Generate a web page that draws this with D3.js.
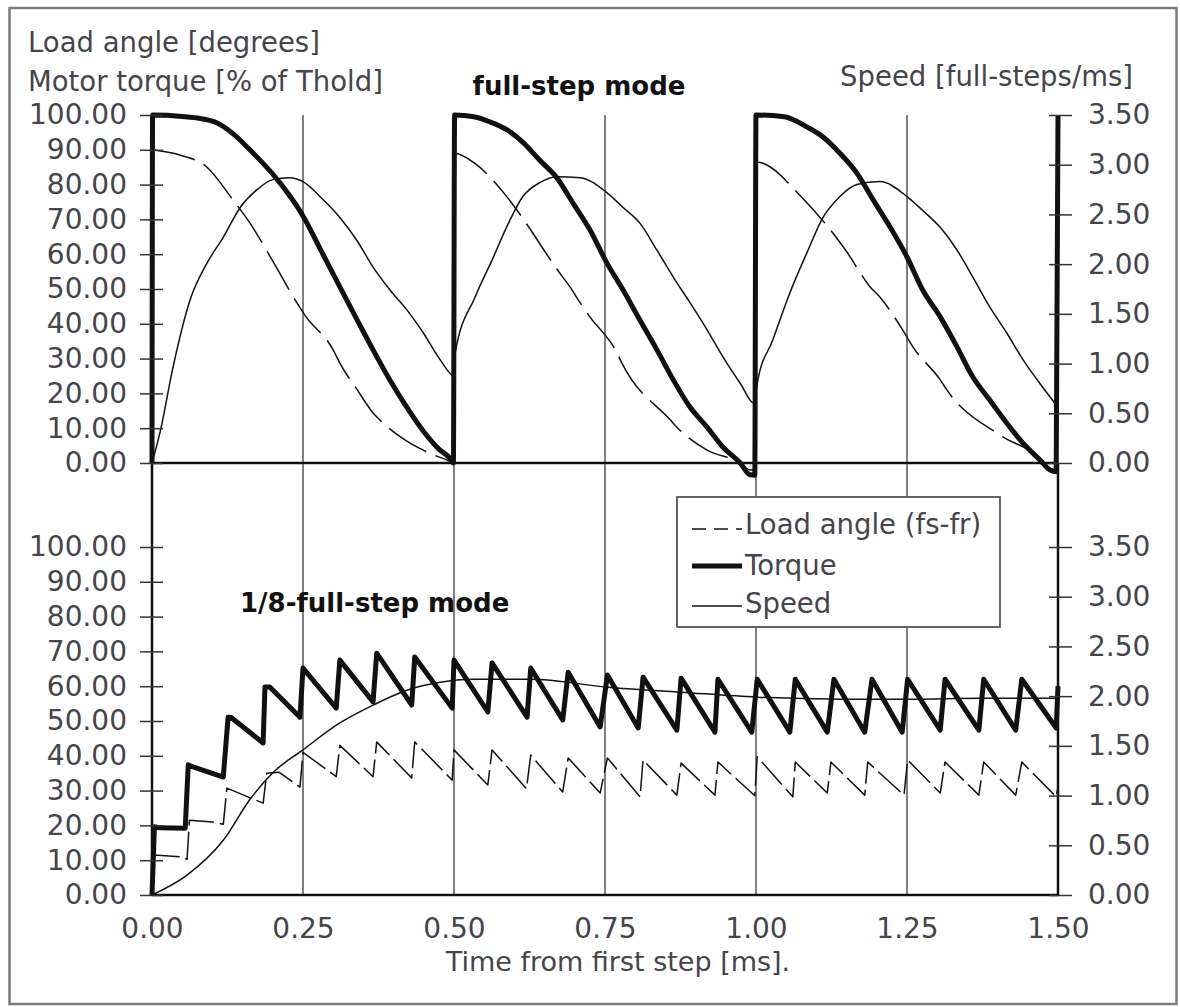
<!DOCTYPE html>
<html>
<head>
<meta charset="utf-8">
<style>
  body { margin: 0; background: #fff; }
  svg text { font-family: 'DejaVu Sans', sans-serif; }
</style>
</head>
<body>
<div id="chart"></div>
<script src="https://cdn.jsdelivr.net/npm/d3@7/dist/d3.min.js"></script>
<script>
var width = 1180, height = 1007;

var timeTicks = [0, 0.25, 0.5, 0.75, 1.0, 1.25, 1.5];
var pctTicks = [0, 10, 20, 30, 40, 50, 60, 70, 80, 90, 100];
var speedTicks = [0, 0.5, 1.0, 1.5, 2.0, 2.5, 3.0, 3.5];
var legendLabels = ['Load angle (fs-fr)', 'Torque', 'Speed'];

// full-step mode (upper panel), [time ms, value]
var fsTorque = [
  [0, 0], [0.001, 100], [0.05, 99.6], [0.08, 99], [0.108, 97.7], [0.135, 94.5], [0.162, 90], [0.2, 83],
  [0.225, 77.5], [0.25, 71], [0.28, 61], [0.311, 50.6], [0.34, 41], [0.366, 32.5], [0.395, 23.5],
  [0.422, 16], [0.45, 9], [0.475, 4], [0.493, 1.4], [0.499, 0],
  [0.501, 100], [0.533, 99.5], [0.56, 98], [0.588, 95.7], [0.615, 92], [0.642, 87], [0.67, 82],
  [0.697, 74.7], [0.725, 67], [0.753, 57.5], [0.78, 49.7], [0.808, 41], [0.836, 32.5], [0.863, 23.9],
  [0.891, 16], [0.919, 10.3], [0.945, 4.6], [0.974, 0], [0.99, -3.4], [0.998, -3.5],
  [1.0, 100], [1.047, 99.5], [1.084, 96.6], [1.111, 93.7], [1.139, 89], [1.167, 83.3], [1.194, 75.6],
  [1.222, 67.8], [1.25, 59.2], [1.276, 49.7], [1.305, 42], [1.333, 33.3], [1.359, 24.7], [1.387, 18.1],
  [1.415, 11.5], [1.442, 5.7], [1.47, 0.9], [1.487, -2], [1.497, -2.5], [1.5, 100]
];
var fsAngle = [
  [0, 90], [0.046, 88.5], [0.091, 85], [0.134, 75.6], [0.162, 69], [0.2, 58], [0.24, 46], [0.253, 42.5],
  [0.3, 32.5], [0.311, 28.7], [0.34, 21], [0.366, 14.4], [0.377, 12.4], [0.42, 6.5], [0.46, 2.8],
  [0.493, 0.5], [0.499, 0],
  [0.501, 89], [0.535, 86], [0.588, 76.4], [0.604, 72.7], [0.675, 54.6], [0.692, 50.6], [0.709, 46],
  [0.725, 42], [0.77, 31.6], [0.778, 28.7], [0.858, 12.4], [0.869, 10.3], [0.919, 3.7], [0.974, 0],
  [0.99, -2], [0.998, -2],
  [1.001, 86.5], [1.037, 83.3], [1.053, 80.5], [1.132, 65], [1.149, 61], [1.189, 50.6], [1.205, 47.7],
  [1.243, 38.2], [1.26, 33.3], [1.305, 23.9], [1.316, 21], [1.409, 7.5], [1.47, 1.4], [1.487, -2], [1.5, -2]
];
var fsSpeed = [
  [0, 0], [0.013, 0.30], [0.035, 0.97], [0.063, 1.64], [0.091, 2.01], [0.118, 2.27], [0.146, 2.57],
  [0.174, 2.75], [0.2, 2.85], [0.228, 2.87], [0.25, 2.83], [0.283, 2.65], [0.311, 2.47], [0.339, 2.24],
  [0.366, 1.97], [0.394, 1.74], [0.422, 1.54], [0.449, 1.31], [0.477, 1.04], [0.499, 0.88],
  [0.502, 1.11], [0.535, 1.67], [0.563, 2.04], [0.59, 2.41], [0.614, 2.68], [0.642, 2.82], [0.67, 2.88],
  [0.709, 2.87], [0.753, 2.72], [0.78, 2.57], [0.808, 2.41], [0.836, 2.14], [0.863, 1.87], [0.891, 1.61],
  [0.919, 1.34], [0.945, 1.07], [0.974, 0.80], [0.997, 0.60],
  [1.002, 0.80], [1.028, 1.24], [1.056, 1.71], [1.084, 2.11], [1.111, 2.47], [1.139, 2.68], [1.167, 2.80],
  [1.205, 2.83], [1.25, 2.68], [1.276, 2.54], [1.305, 2.37], [1.333, 2.14], [1.359, 1.87], [1.387, 1.57],
  [1.415, 1.31], [1.442, 1.04], [1.47, 0.80], [1.495, 0.60]
];

// 1/8-full-step mode (lower panel)
var msTorque = [
  [0, 0], [0.004, 19.6], [0.013, 19.3], [0.055, 19.2], [0.06, 37.4], [0.068, 36.8], [0.118, 33.9],
  [0.126, 51.1], [0.131, 51], [0.184, 43.7], [0.187, 59.8], [0.195, 59.8], [0.245, 51.1], [0.25, 65.2],
  [0.305, 53.7], [0.311, 67.5], [0.366, 55.5], [0.372, 69.5], [0.43, 54.6], [0.435, 68.4], [0.497, 53.7],
  [0.5, 67.5], [0.556, 52.6], [0.563, 66.7], [0.621, 51.1], [0.627, 65.2], [0.680, 50.3], [0.689, 64],
  [0.742, 48.3], [0.754, 63.2], [0.805, 48], [0.813, 62.6], [0.869, 47.4], [0.876, 62.3], [0.932, 46.8],
  [0.937, 62], [0.993, 46.8], [1.002, 62], [1.056, 46.8], [1.065, 62], [1.118, 46.8], [1.129, 62],
  [1.18, 46.8], [1.192, 62], [1.242, 46.8], [1.251, 62], [1.305, 47.4], [1.313, 62], [1.369, 47.4],
  [1.377, 62], [1.43, 47.4], [1.44, 62], [1.497, 48], [1.5, 60]
];
var msAngle = [
  [0, 0], [0.003, 11.5], [0.052, 10.9], [0.058, 10.2], [0.062, 21.5], [0.1, 21], [0.118, 20.3],
  [0.124, 30.7], [0.184, 26.4], [0.19, 35], [0.21, 35.3], [0.245, 31], [0.25, 41], [0.305, 34],
  [0.311, 43], [0.366, 34], [0.372, 44], [0.43, 33.6], [0.435, 44], [0.497, 33], [0.5, 41.7],
  [0.556, 31.6], [0.563, 41.7], [0.62, 30.5], [0.627, 40.2], [0.680, 29.6], [0.689, 39.4], [0.742, 29.3],
  [0.754, 39.4], [0.808, 28.2], [0.813, 38.8], [0.869, 28.7], [0.876, 37.9], [0.932, 28.7], [0.937, 38.2],
  [0.998, 28.5], [1.002, 39.7], [1.061, 28.2], [1.065, 38.2], [1.118, 29.3], [1.124, 38.2], [1.18, 28.7],
  [1.185, 38.2], [1.245, 28.7], [1.251, 38.8], [1.305, 29.3], [1.313, 38.2], [1.369, 28.7], [1.377, 38.2],
  [1.43, 28.7], [1.44, 38.2], [1.497, 28.2], [1.5, 31]
];
var msSpeed = [
  [0, 0], [0.058, 0.20], [0.118, 0.55], [0.162, 0.96], [0.2, 1.23], [0.25, 1.46], [0.311, 1.73],
  [0.366, 1.91], [0.422, 2.06], [0.477, 2.14], [0.53, 2.17], [0.627, 2.17], [0.754, 2.09], [0.876, 2.04],
  [1.002, 1.99], [1.142, 1.97], [1.25, 1.97], [1.377, 1.98], [1.5, 1.98]
];

var txt = '#44444c';
var fmt = d3.format('.2f');

var svg = d3.select('#chart').append('svg')
    .attr('width', width)
    .attr('height', height);

svg.append('rect')
    .attr('x', 9.5).attr('y', 8)
    .attr('width', 1167).attr('height', 996)
    .attr('fill', 'white')
    .attr('stroke', '#7a7a7a')
    .attr('stroke-width', 2.5);

var x = d3.scaleLinear().domain([0, 1.5]).range([152, 1058]);
var yTop = d3.scaleLinear().domain([0, 100]).range([463, 115]);
var sTop = d3.scaleLinear().domain([0, 3.5]).range([463, 115]);
var yBot = d3.scaleLinear().domain([0, 100]).range([895, 547]);
var sBot = d3.scaleLinear().domain([0, 3.5]).range([895, 547]);

// vertical grid lines through both panels
svg.selectAll('.grid')
    .data(timeTicks.filter(function(t){ return t > 0 && t < 1.5; }))
    .enter().append('line')
    .attr('class', 'grid')
    .attr('x1', function(d){ return x(d); })
    .attr('x2', function(d){ return x(d); })
    .attr('y1', yTop(100))
    .attr('y2', yBot(0))
    .attr('stroke', '#2a2a2a')
    .attr('stroke-width', 1.2);

function drawSeries(data, ys, w, dash, curve){
    var line = d3.line()
        .x(function(d){ return x(d[0]); })
        .y(function(d){ return ys(d[1]); })
        .curve(curve || d3.curveLinear);
    var p = svg.append('path')
        .attr('d', line(data))
        .attr('fill', 'none')
        .attr('stroke', '#111')
        .attr('stroke-width', w)
        .attr('stroke-linejoin', 'round');
    if(dash) p.attr('stroke-dasharray', dash);
}

drawSeries(fsAngle, yTop, 1.5, '44,10', d3.curveMonotoneX);
drawSeries(fsSpeed, sTop, 1.5, null, d3.curveMonotoneX);
drawSeries(msAngle, yBot, 1.5, '30,6');
drawSeries(msSpeed, sBot, 1.5, null, d3.curveMonotoneX);

// axis lines
svg.append('line').attr('x1', x(0)).attr('x2', x(0)).attr('y1', yTop(100)).attr('y2', yBot(0))
    .attr('stroke', '#111').attr('stroke-width', 2.5);
svg.append('line').attr('x1', x(1.5)).attr('x2', x(1.5)).attr('y1', yTop(0)).attr('y2', yBot(0))
    .attr('stroke', '#111').attr('stroke-width', 2.5);
[yTop(0), yBot(0)].forEach(function(yy){
    svg.append('line').attr('x1', x(0)).attr('x2', x(1.5)).attr('y1', yy).attr('y2', yy)
        .attr('stroke', '#111').attr('stroke-width', 2.5);
});

drawSeries(fsTorque, yTop, 5, null, d3.curveMonotoneX);
drawSeries(msTorque, yBot, 5);

function leftAxis(scale){
    var g = svg.append('g')
        .attr('transform', 'translate(' + x(0) + ',0)')
        .call(d3.axisLeft(scale).tickValues(pctTicks).tickFormat(fmt).tickSize(12).tickPadding(13));
    g.attr('font-family', 'DejaVu Sans').attr('font-size', 28);
    g.select('.domain').remove();
    g.selectAll('.tick line').attr('x1', 11).attr('stroke', '#333').attr('stroke-width', 1.5);
    g.selectAll('.tick text').attr('fill', txt);
}
function rightAxis(scale){
    var g = svg.append('g')
        .attr('transform', 'translate(' + x(1.5) + ',0)')
        .call(d3.axisRight(scale).tickValues(speedTicks).tickFormat(fmt).tickSize(14).tickPadding(16));
    g.attr('font-family', 'DejaVu Sans').attr('font-size', 28);
    g.select('.domain').remove();
    g.selectAll('.tick line').attr('x1', -9).attr('stroke', '#333').attr('stroke-width', 1.5);
    g.selectAll('.tick text').attr('fill', txt);
}
leftAxis(yTop);
leftAxis(yBot);
rightAxis(sTop);
rightAxis(sBot);

var xg = svg.append('g')
    .attr('transform', 'translate(0,' + yBot(0) + ')')
    .call(d3.axisBottom(x).tickValues(timeTicks).tickFormat(fmt).tickSize(0).tickPadding(23));
xg.attr('font-family', 'DejaVu Sans').attr('font-size', 28);
xg.select('.domain').remove();
xg.selectAll('.tick text').attr('fill', txt);

// titles
svg.append('text').attr('x', 28).attr('y', 52).attr('font-size', 27.5).attr('fill', txt)
    .text('Load angle [degrees]');
svg.append('text').attr('x', 28).attr('y', 91).attr('font-size', 27.5).attr('fill', txt)
    .text('Motor torque [% of Thold]');
svg.append('text').attr('x', 1133).attr('y', 86).attr('font-size', 27.5).attr('fill', txt)
    .attr('text-anchor', 'end').text('Speed [full-steps/ms]');
svg.append('text').attr('x', 579).attr('y', 95).attr('font-size', 26).attr('font-weight', 'bold')
    .attr('fill', '#111').attr('text-anchor', 'middle').text('full-step mode');
svg.append('text').attr('x', 240).attr('y', 612).attr('font-size', 26).attr('font-weight', 'bold')
    .attr('fill', '#111').text('1/8-full-step mode');
svg.append('text').attr('x', 618).attr('y', 971).attr('font-size', 27).attr('fill', txt)
    .attr('text-anchor', 'middle').text('Time from first step [ms].');

// legend
var lg = svg.append('g');
lg.append('rect').attr('x', 677).attr('y', 497).attr('width', 323).attr('height', 130)
    .attr('fill', 'white').attr('stroke', '#555').attr('stroke-width', 1.8);
var rowY = [529, 566, 606];
var rowT = [534, 575, 613];
var rowW = [1.5, 5, 1.5];
var rowDash = ['14,8', null, null];
legendLabels.forEach(function(lab, i){
    var l = lg.append('line').attr('x1', 692).attr('x2', 742)
        .attr('y1', rowY[i]).attr('y2', rowY[i])
        .attr('stroke', '#111').attr('stroke-width', rowW[i]);
    if(rowDash[i]) l.attr('stroke-dasharray', rowDash[i]);
    lg.append('text').attr('x', 745).attr('y', rowT[i]).attr('font-size', 27.5)
        .attr('fill', txt).text(lab);
});
</script>
</body>
</html>
